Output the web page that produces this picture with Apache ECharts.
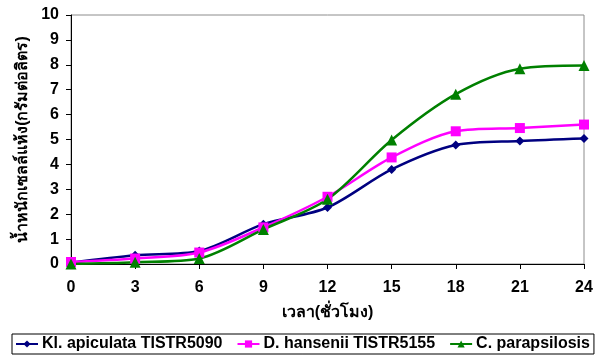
<!DOCTYPE html>
<html>
<head>
<meta charset="utf-8">
<script src="https://cdn.jsdelivr.net/npm/echarts@6/dist/echarts.min.js"></script>
<style>
  html, body { margin: 0; padding: 0; background: #fff; }
  #chart { width: 596px; height: 361px; }
</style>
</head>
<body>
<div id="chart"></div>
<script>
// Sampling times (hours)
const hours = [0, 3, 6, 9, 12, 15, 18, 21, 24];

// Dry cell weight (g/L) for each yeast strain
const klApiculata = [0.05, 0.35, 0.52, 1.6, 2.27, 3.8, 4.78, 4.94, 5.04];
const dHansenii   = [0.08, 0.22, 0.46, 1.47, 2.7, 4.28, 5.33, 5.46, 5.6];
const cParapsilosis = [0.0, 0.07, 0.22, 1.39, 2.6, 4.98, 6.82, 7.84, 7.97];

const seriesNames = ['Kl. apiculata TISTR5090', 'D. hansenii TISTR5155', 'C. parapsilosis'];
const xAxisTitle = 'เวลา(ชั่วโมง)';
const yAxisTitle = 'น้ำหนักเซลล์แห้ง(กรัมต่อลิตร)';

const fontFam = 'Arial, "Liberation Sans", "Noto Sans", sans-serif';

function pairs(vals) {
  return hours.map((h, i) => [h, vals[i]]);
}

function lineSeries(name, vals, color, symbol, size) {
  return {
    name: name,
    type: 'line',
    data: pairs(vals),
    smooth: 0.3,
    symbol: symbol,
    symbolSize: size,
    lineStyle: { color: color, width: 2.5 },
    itemStyle: { color: color },
    z: 3
  };
}

const chart = echarts.init(document.getElementById('chart'), null, { renderer: 'canvas' });
chart.setOption({
  animation: false,
  backgroundColor: '#ffffff',
  grid: {
    left: 71, right: 12, top: 15, bottom: 97,
    show: true, borderColor: '#8c8c8c', borderWidth: 1, backgroundColor: 'transparent'
  },
  xAxis: {
    type: 'value',
    min: 0, max: 24, interval: 3,
    name: xAxisTitle,
    nameLocation: 'middle',
    nameGap: 41,
    nameTextStyle: { fontFamily: fontFam, fontWeight: 'bold', fontSize: 16, color: '#000' },
    axisLine: { show: true, lineStyle: { color: '#000', width: 1 } },
    axisTick: { show: true, inside: false, length: 5, lineStyle: { color: '#000' } },
    axisLabel: { margin: 16, fontFamily: fontFam, fontWeight: 'bold', fontSize: 16, color: '#000' },
    splitLine: { show: false }
  },
  yAxis: {
    type: 'value',
    min: 0, max: 10, interval: 1,
    name: yAxisTitle,
    nameLocation: 'middle',
    nameRotate: 90,
    nameGap: 40,
    nameTextStyle: { fontFamily: fontFam, fontWeight: 'bold', fontSize: 16, color: '#000' },
    axisLine: { show: true, lineStyle: { color: '#000', width: 1 } },
    axisTick: { show: true, inside: false, length: 5, lineStyle: { color: '#000' } },
    axisLabel: { margin: 12, fontFamily: fontFam, fontWeight: 'bold', fontSize: 16, color: '#000' },
    splitLine: { show: false }
  },
  legend: {
    top: 334,
    left: 12,
    padding: [2, 4, 2, 3],
    borderColor: '#000',
    borderWidth: 1,
    itemGap: 14,
    itemWidth: 22,
    itemHeight: 9,
    textStyle: { fontFamily: fontFam, fontWeight: 'bold', fontSize: 16, color: '#000', padding: [0, 0, 0, -1] },
    data: seriesNames
  },
  series: [
    lineSeries(seriesNames[0], klApiculata, '#000080', 'diamond', 9),
    lineSeries(seriesNames[1], dHansenii, '#ff00ff', 'rect', 10),
    lineSeries(seriesNames[2], cParapsilosis, '#008000', 'triangle', 11)
  ]
});
</script>
</body>
</html>
